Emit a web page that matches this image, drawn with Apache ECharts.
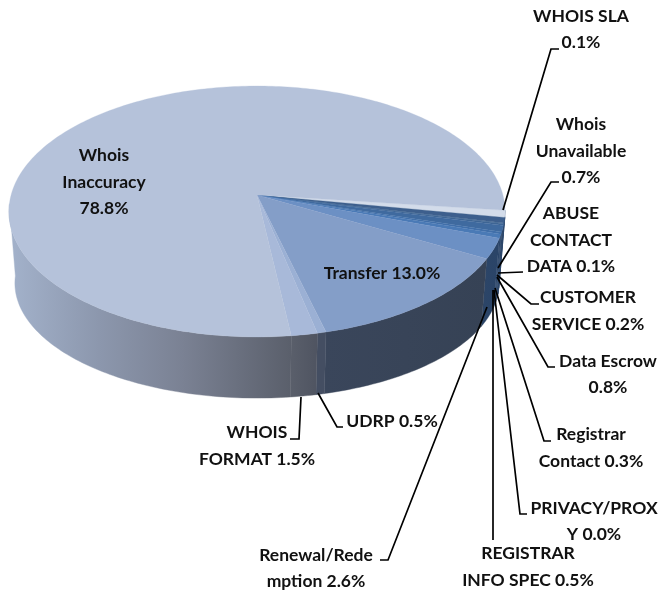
<!DOCTYPE html>
<html>
<head>
<meta charset="utf-8">
<style>html,body{margin:0;padding:0;background:#fff}#c{width:660px;height:594px}</style>
<script src="https://cdn.jsdelivr.net/npm/echarts@6/dist/echarts.min.js"></script>
</head>
<body>
<div id="c"></div>
<script>
// ---- data, in drawing order (clockwise from the right-hand rim) ----
const categories = ['Not labelled','WHOIS SLA','Whois Unavailable','ABUSE CONTACT DATA','CUSTOMER SERVICE','Data Escrow','Registrar Contact','PRIVACY/PROXY','REGISTRAR INFO SPEC','Renewal/Redemption','Transfer','UDRP','WHOIS FORMAT','Whois Inaccuracy'];
const shares = [0.8,0.1,0.7,0.1,0.2,0.8,0.3,0.0,0.5,2.6,13.0,0.5,1.5,78.8];
const labelTexts = [null,'WHOIS SLA\n0.1%','Whois\nUnavailable\n0.7%','ABUSE\nCONTACT\nDATA 0.1%','CUSTOMER\nSERVICE 0.2%','Data Escrow\n0.8%','Registrar\nContact 0.3%','PRIVACY/PROX\nY 0.0%','REGISTRAR\nINFO SPEC 0.5%','Renewal/Rede\nmption 2.6%','Transfer 13.0%','UDRP 0.5%','WHOIS\nFORMAT 1.5%','Whois\nInaccuracy\n78.8%'];

// ---- styles ----
const topColors = ['#D3DCEA','#D3DCEA','#3D5F8D','#3D628F','#3E6594','#3F6A9F','#416FA9','#416FA9','#4A7AB6','#6C90C4','#849EC8','#9BB0D4','#A8B9D9','#B5C2DA'];
const wallStops = [
  ['#2E4A72','#2E4A72'],['#2E4A72','#2E4A72'],['#2B4568','#2B4568'],['#2B4568','#2B4568'],['#2B4568','#2B4568'],
  ['#2B4568','#2B4568'],['#2B4568','#2B4568'],['#2B4568','#2B4568'],['#2A4468','#2A4468'],['#2C4567','#2A4468'],
  ['#3A465B','#364255'],['#444E62','#444E62'],['#5A5F6B','#4F5461'],null];
const inaccuracyWall = [[0,'#A3B2CB'],[0.32,'#8C97AD'],[0.62,'#7A8193'],[1,'#5A5F6B']];

// ---- layout of the projected disc and of the hand-placed callouts ----
const startAngle = 7;
const perspective = 0.1315;
const topDisc = {cx:257, cy:195, rx:245.9, ry:123.3};
const bottomDisc = {cx:257, cy:268, rx:240, ry:113};
const callouts = [
  null,
  {x:581, y:29.5, line:[[503,210],[551,49],[559,49]]},
  {x:581, y:151, line:[[498,268],[551,182],[559,182]]},
  {x:571, y:240, line:[[498,273],[523,272]]},
  {x:588, y:311, line:[[497,275],[531,304],[539,304]]},
  {x:608, y:374.5, line:[[497,277],[548,367],[555,367]]},
  {x:591, y:448, line:[[495,288],[544,441],[551,441]]},
  {x:594, y:521.5, line:[[494,290],[520,514],[527,514]]},
  {x:528, y:567, line:[[493,290],[493,540]]},
  {x:316, y:568.5, line:[[487,307],[388,560],[380,560]]},
  {x:382, y:273},
  {x:392, y:421, line:[[318,393],[337,427],[343,427]]},
  {x:257, y:446, line:[[301,397],[299,439],[290,439]]},
  {x:104, y:182}
];

function project(d, deg){
  const a = deg*Math.PI/180, w = 1 - perspective*Math.sin(a);
  return [d.cx + d.rx*Math.cos(a)/w, d.cy + d.ry*Math.sin(a)/w];
}
function arc(d, from, to){
  const pts = [], n = Math.max(2, Math.ceil(Math.abs(to-from)));
  for(let i=0;i<=n;i++) pts.push(project(d, from+(to-from)*i/n));
  return pts;
}
const total = shares.reduce((a,b)=>a+b,0);
function sweep(i){
  let s = 0;
  for(let k=0;k<i;k++) s += shares[k];
  return [startAngle + s/total*360, startAngle + (s+shares[i])/total*360];
}

function renderWall(params, api){
  const i = params.dataIndex;
  if(api.value(1) <= 0) return {type:'group',children:[]};
  const [a, raw] = sweep(i);
  const b = Math.min(raw, 176);
  const pts = arc(topDisc,a,b).concat(arc(bottomDisc,b,a));
  const xs = pts.map(p=>p[0]);
  const x0 = Math.min(...xs), x1 = Math.max(...xs);
  const stops = wallStops[i]
    ? [{offset:0,color:wallStops[i][0]},{offset:1,color:wallStops[i][1]}]
    : inaccuracyWall.map(s=>({offset:s[0],color:s[1]}));
  const fill = new echarts.graphic.LinearGradient(x0,0,x1,0,stops,true);
  return {type:'polygon',shape:{points:pts},style:{fill:fill,stroke:fill,lineWidth:0.4}};
}
function renderTop(params, api){
  const i = params.dataIndex;
  if(api.value(1) <= 0) return {type:'group',children:[]};
  const [a,b] = sweep(i);
  const pts = [[topDisc.cx,topDisc.cy]].concat(arc(topDisc,a,b));
  return {type:'polygon',shape:{points:pts},style:{fill:topColors[i],stroke:topColors[i],lineWidth:0.3}};
}
function renderCallout(params){
  const i = params.dataIndex, c = callouts[i], kids = [];
  if(!c) return {type:'group',children:[]};
  if(c.line) kids.push({type:'polyline',shape:{points:c.line},style:{fill:null,stroke:'#000',lineWidth:1.7}});
  kids.push({type:'text',x:c.x,y:c.y,style:{text:labelTexts[i],x:0,y:0,align:'center',verticalAlign:'middle',
    font:'bold 17.5px Lato',lineHeight:26.4,fill:'#111'}});
  return {type:'group',children:kids};
}

const rows = categories.map((n,i)=>[i,shares[i],n]);
const chart = echarts.init(document.getElementById('c'),null,{renderer:'canvas'});
chart.setOption({
  animation:false,
  backgroundColor:'#fff',
  series:[
    {type:'custom',coordinateSystem:'none',silent:true,z:1,data:rows,renderItem:renderWall},
    {type:'custom',coordinateSystem:'none',silent:true,z:2,data:rows,renderItem:renderTop},
    {type:'custom',coordinateSystem:'none',silent:true,z:3,data:rows,renderItem:renderCallout}
  ]
});
</script>
</body>
</html>
